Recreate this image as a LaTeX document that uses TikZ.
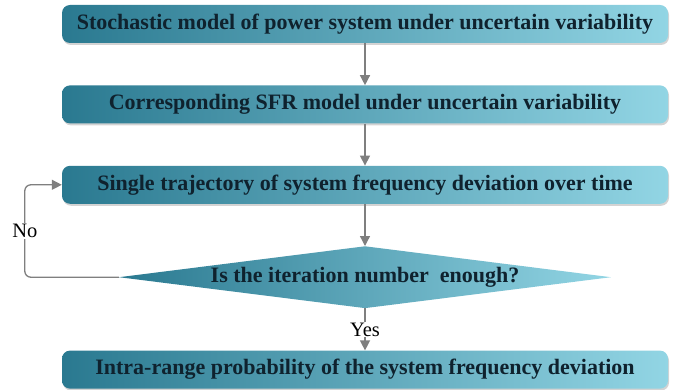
\documentclass[tikz,border=0pt]{standalone}
\usepackage{fontspec}
\setmainfont{Liberation Serif}
\usepackage{tikz}
\usetikzlibrary{shapes.geometric, arrows.meta, positioning, shadows}

\definecolor{boxdark}{HTML}{2A7990}
\definecolor{boxmid}{HTML}{4DA9C2}
\definecolor{boxlight}{HTML}{92D5E4}
\definecolor{boxtext}{HTML}{0F222E}
\definecolor{linegray}{HTML}{7F7F7F}

\begin{document}
\begin{tikzpicture}[
    x=1pt, y=-1pt,
    box/.style={rectangle, rounded corners=8pt, minimum width=606pt, minimum height=38pt,
        left color=boxdark, middle color=boxmid, right color=boxlight, text=boxtext,
        font=\fontsize{22pt}{24pt}\selectfont\bfseries,
        drop shadow={opacity=0.35, shadow xshift=1pt, shadow yshift=-2pt}},
    decision/.style={diamond, aspect=7.9, inner sep=0pt, minimum width=492pt, minimum height=62pt,
        left color=boxdark, middle color=boxmid, right color=boxlight, text=boxtext,
        font=\fontsize{22pt}{24pt}\selectfont\bfseries},
    arrow/.style={-{Triangle[width=10pt,length=10pt]}, linegray, line width=1.3pt},
    label/.style={fill=white, text=black, inner sep=1pt, font=\fontsize{20.5pt}{22pt}\selectfont}
]
\useasboundingbox (0,0) rectangle (679,390);

\node[box] (model) at (365,24) {Stochastic model of power system under uncertain variability};
\node[box, below=42pt of model] (sfr) {Corresponding SFR model under uncertain variability};
\node[box, below=42pt of sfr] (traj) {Single trajectory of system frequency deviation over time};
\node[decision, below=42pt of traj] (check) {Is the iteration number\ \ enough?};
\node[box, below=42pt of check] (prob) {Intra-range probability of the system frequency deviation};

\draw[arrow] (model) -- (sfr);
\draw[arrow] (sfr) -- (traj);
\draw[arrow] (traj) -- (check);
\draw[arrow] (check) -- node[label] {Yes} (prob);
\draw[arrow, rounded corners=6pt] (check.west) -| node[label, pos=0.75] {No} ([xshift=-37pt]traj.west) -- (traj.west);
\end{tikzpicture}
\end{document}
